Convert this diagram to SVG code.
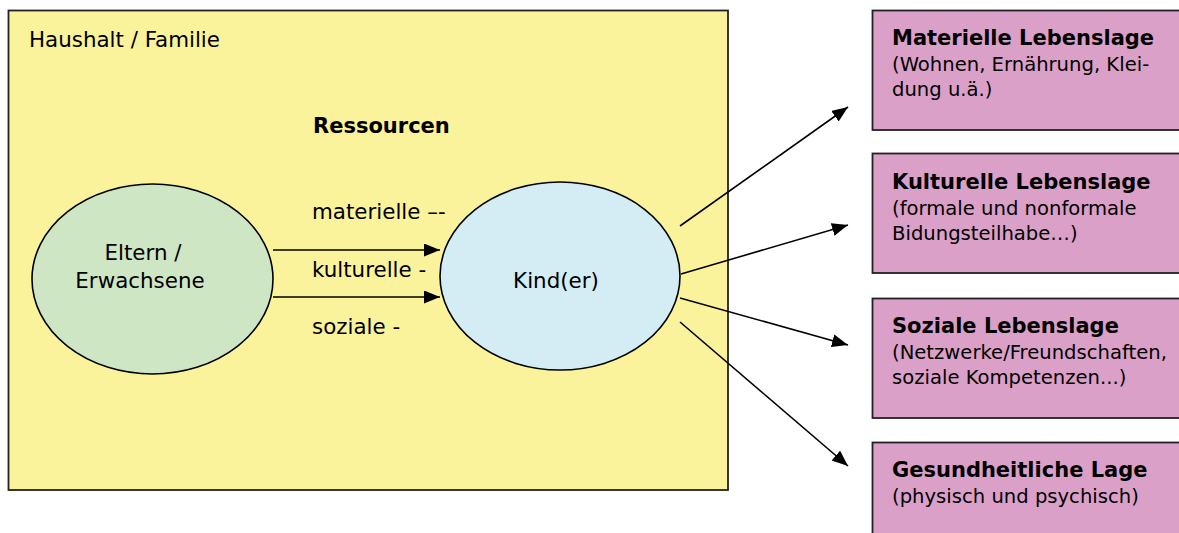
<svg xmlns="http://www.w3.org/2000/svg" width="1179" height="533" viewBox="0 0 1179 533">
<style>
text{font-family:"DejaVu Sans","Verdana",sans-serif;fill:#000}
.lbl{font-size:21.4px}
.b{font-weight:bold;font-size:21px}
.sub{font-size:19.6px}
.conn line{stroke:#000;stroke-width:1.6}
.box{fill:#DBA0C8;stroke:#222;stroke-width:1.8}
</style>
<defs>
<marker id="ah" markerUnits="userSpaceOnUse" markerWidth="17" markerHeight="14" refX="16" refY="6.5" orient="auto">
<path d="M0,0 L16,6.5 L0,13 Z" fill="#000"/>
</marker>
</defs>
<g id="haushalt">
<rect x="8.5" y="10.5" width="719.5" height="479.5" fill="#FBF39B" stroke="#222" stroke-width="1.8"/>
<text class="lbl" x="29" y="47">Haushalt / Familie</text>
<text class="b" x="313" y="133">Ressourcen</text>
<text class="lbl" x="312" y="219">materielle –-</text>
<text class="lbl" x="312" y="277">kulturelle -</text>
<text class="lbl" x="312" y="334">soziale -</text>
</g>
<g id="eltern">
<ellipse cx="152.5" cy="279" rx="120.5" ry="95" fill="#CFE6C5" stroke="#000" stroke-width="1.6"/>
<text class="lbl" x="143" y="260" text-anchor="middle">Eltern /</text>
<text class="lbl" x="140" y="288" text-anchor="middle">Erwachsene</text>
</g>
<g id="kind">
<ellipse cx="560" cy="276" rx="120" ry="94" fill="#D4ECF4" stroke="#000" stroke-width="1.6"/>
<text class="lbl" x="556" y="288" text-anchor="middle">Kind(er)</text>
</g>
<g id="materielle">
<rect class="box" x="872.5" y="10.5" width="320" height="119.5"/>
<text class="b" x="892" y="45">Materielle Lebenslage</text>
<text class="sub" x="892" y="71">(Wohnen, Ernährung, Klei-</text>
<text class="sub" x="892" y="96">dung u.ä.)</text>
</g>
<g id="kulturelle">
<rect class="box" x="872.5" y="153.5" width="320" height="119.5"/>
<text class="b" x="892" y="189">Kulturelle Lebenslage</text>
<text class="sub" x="892" y="215">(formale und nonformale</text>
<text class="sub" x="892" y="240">Bidungsteilhabe…)</text>
</g>
<g id="soziale">
<rect class="box" x="872.5" y="298.5" width="320" height="119.5"/>
<text class="b" x="892" y="333">Soziale Lebenslage</text>
<text class="sub" x="892" y="359">(Netzwerke/Freundschaften,</text>
<text class="sub" x="892" y="384">soziale Kompetenzen...)</text>
</g>
<g id="gesundheit">
<rect class="box" x="872.5" y="442.5" width="320" height="119.5"/>
<text class="b" x="892" y="477">Gesundheitliche Lage</text>
<text class="sub" x="892" y="503">(physisch und psychisch)</text>
</g>
<g class="conn" id="connectors">
<line x1="273" y1="250" x2="440" y2="250" marker-end="url(#ah)"/>
<line x1="273" y1="297" x2="440" y2="297" marker-end="url(#ah)"/>
<line x1="680" y1="226" x2="848" y2="107" marker-end="url(#ah)"/>
<line x1="681" y1="274" x2="848" y2="225" marker-end="url(#ah)"/>
<line x1="680" y1="298" x2="848" y2="345" marker-end="url(#ah)"/>
<line x1="680" y1="322" x2="848" y2="466" marker-end="url(#ah)"/>
</g>
</svg>
